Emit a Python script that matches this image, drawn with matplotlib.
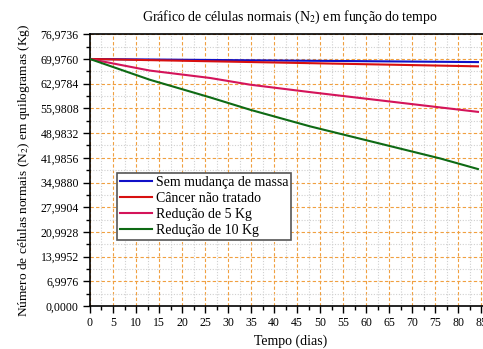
import matplotlib
matplotlib.use("Agg")
import matplotlib.pyplot as plt
from matplotlib.ticker import MultipleLocator, FuncFormatter

plt.rcParams["font.family"] = ["Liberation Serif", "DejaVu Serif"]
plt.rcParams["mathtext.fontset"] = "stix"

# values (days, kg)
days_flat = [0, 84.3]
sem_mudanca = [69.976, 69.1]
cancer = [69.976, 67.9]

days_5kg = [0, 13.0, 26.1, 34.8, 47.8, 84.3]
reducao_5 = [69.976, 66.7, 64.6, 62.7, 60.6, 55.0]

days_10kg = [0, 13.0, 26.1, 34.8, 47.8, 76.1, 84.3]
reducao_10 = [69.976, 64.1, 59.1, 55.6, 50.9, 41.8, 38.8]

y_step = 6.9976
y_ticks = [i * y_step for i in range(12)]
x_ticks = list(range(0, 90, 5))

fig = plt.figure(figsize=(4.83, 3.49), dpi=100)
ax = fig.add_axes([0.1863, 0.1232, 0.829, 0.7785])

ax.plot(days_flat, sem_mudanca, color="#1010c8", lw=1.5, label="Sem mudança de massa", zorder=4)
ax.plot(days_flat, cancer, color="#d81010", lw=1.5, label="Câncer não tratado", zorder=4)
ax.plot(days_5kg, reducao_5, color="#d4145a", lw=1.5, label="Redução de 5 Kg", zorder=4)
ax.plot(days_10kg, reducao_10, color="#0e6a14", lw=1.5, label="Redução de 10 Kg", zorder=4)

ax.set_xlim(0, 87)
ax.set_ylim(0, y_ticks[-1])
ax.set_xticks(x_ticks)
ax.set_yticks(y_ticks)
ax.xaxis.set_minor_locator(MultipleLocator(2.5))
ax.yaxis.set_minor_locator(MultipleLocator(y_step / 2))
ax.yaxis.set_major_formatter(FuncFormatter(lambda v, p: f"{v:.4f}".replace(".", ",")))

ax.grid(which="major", color="#f0a040", linestyle=(0, (3, 2)), lw=0.8, zorder=1)
ax.grid(which="minor", color="#d0d0d0", linestyle=(0, (1, 1.5)), lw=0.8, zorder=0)

ax.tick_params(which="major", direction="out", length=5, width=1, labelsize=8.5, pad=3)
ax.tick_params(which="minor", direction="out", length=3, width=1)
for s in ax.spines.values():
    s.set_linewidth(1.2)

ax.set_title("Gráfico de células normais (N$_2$) em função do tempo", fontsize=10, pad=10)
ax.set_xlabel("Tempo (dias)", fontsize=10, labelpad=4)
ax.set_ylabel("Número de células normais (N$_2$) em quilogramas (Kg)", fontsize=9.6, labelpad=6)

leg = ax.legend(loc="upper left", bbox_to_anchor=(0.068, 0.49), fontsize=10,
                frameon=True, fancybox=False, edgecolor="#555555", framealpha=1,
                borderpad=0.2, labelspacing=0.22, handlelength=2.3, handletextpad=0.3,
                borderaxespad=0)
leg.get_frame().set_linewidth(1.2)

fig.savefig("out.png", dpi=100)
